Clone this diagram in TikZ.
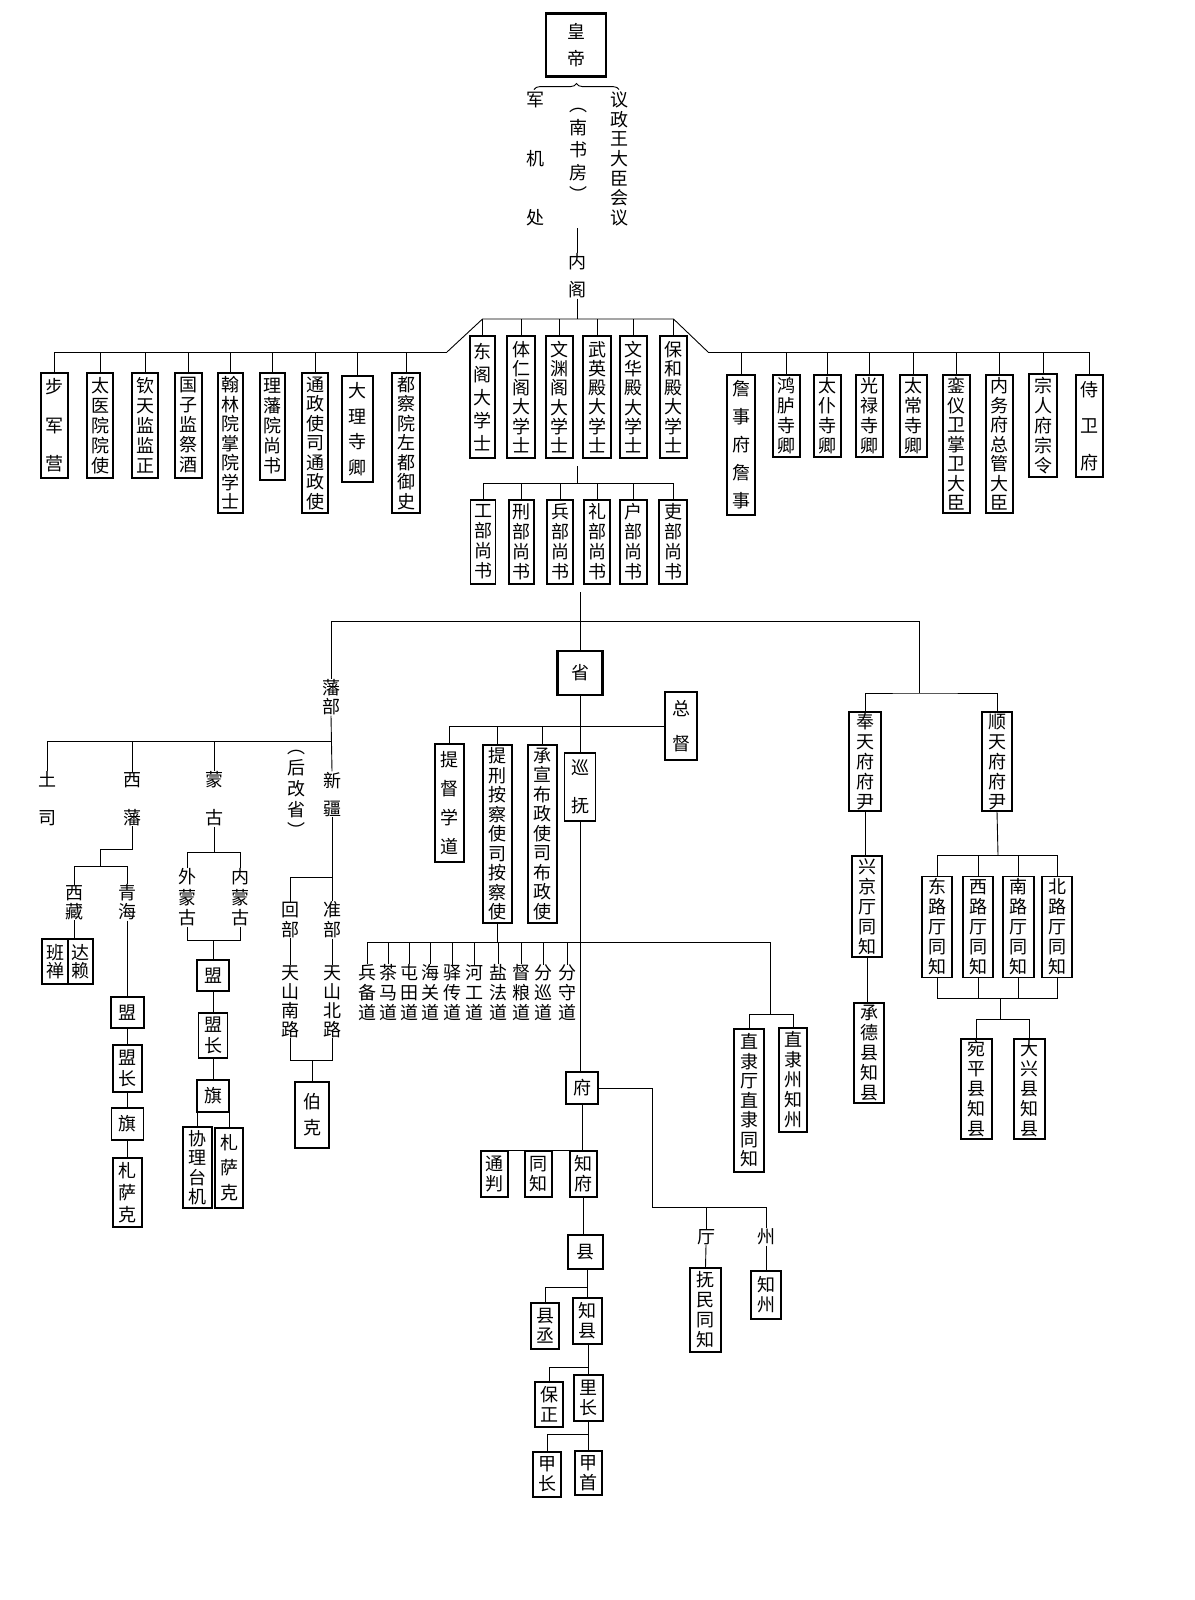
\documentclass[tikz,border=0pt]{standalone}
\usepackage{fontspec}
\setmainfont{Noto Sans CJK SC}
\usetikzlibrary{decorations.pathreplacing}

\begin{document}
\begin{tikzpicture}[x=1pt, y=-1pt, line width=0.9pt,
    font=\fontsize{18pt}{20pt}\selectfont,
    bx/.style={draw, line width=1.1pt, inner sep=0pt, align=center},
    sz/.style 2 args={minimum width=#1pt, minimum height=#2pt},
    ls/.style={font=\fontsize{18pt}{#1pt}\selectfont},
    lbl/.style={inner sep=0pt, align=center},
    thk/.style={line width=2.2pt}]
    \fill[white] (0,0) rectangle (1194,1600);
    \useasboundingbox (0,0) rectangle (1194,1600);

    \node[bx, thk, sz={60}{63}, ls=27] (huangdi) at (576,45) {皇\\帝};
    \draw[decorate, decoration={brace, amplitude=6pt}] ([xshift=-42pt,yshift=-12pt]huangdi.south) -- ([xshift=43pt,yshift=-12pt]huangdi.south);
    \node[lbl, ls=59] (junji) at (535,159) {军\\机\\处};
    \node[lbl, ls=22.5] (nanshufang) at (578,155) {︵\\南\\书\\房\\︶};
    \node[lbl, ls=19.7] (yizheng) at (619,159) {议\\政\\王\\大\\臣\\会\\议};
    \node[lbl, ls=28] (neige) at (577,276) {内\\阁};
    \coordinate (nsf) at (577,228);
    \coordinate (gbar) at (577,319);
    \coordinate (lbar) at (447,352);
    \coordinate (rbar) at (708,352);
    \draw (nsf) -- (neige.north);
    \draw (neige.south) -- (gbar);

    \node[bx, sz={25}{122}, ls=23] (dongge) at (482.5,397) {东\\阁\\大\\学\\士};
    \node[bx, sz={28}{122}, ls=19.3] (tiren) at (521,397) {体\\仁\\阁\\大\\学\\士};
    \node[bx, sz={27}{122}, ls=19.3] (wenyuan) at (559.5,397) {文\\渊\\阁\\大\\学\\士};
    \node[bx, sz={28}{122}, ls=19.3] (wuying) at (597,397) {武\\英\\殿\\大\\学\\士};
    \node[bx, sz={27}{122}, ls=19.3] (wenhua) at (633.5,397) {文\\华\\殿\\大\\学\\士};
    \node[bx, sz={27}{122}, ls=19.3] (baohe) at (673.5,397) {保\\和\\殿\\大\\学\\士};

    \node[bx, sz={27}{105}, ls=38.5] (bujun) at (54.5,425.5) {步\\军\\营};
    \node[bx, sz={26}{105}, ls=20] (taiyi) at (100,425.5) {太\\医\\院\\院\\使};
    \node[bx, sz={26}{105}, ls=20] (qintian) at (145,425.5) {钦\\天\\监\\监\\正};
    \node[bx, sz={27}{105}, ls=20] (guozi) at (188.5,425.5) {国\\子\\监\\祭\\酒};
    \node[bx, sz={25}{140}, ls=19.5] (hanlin) at (230.5,443) {翰\\林\\院\\掌\\院\\学\\士};
    \node[bx, sz={25}{107}, ls=20] (lifan) at (272.5,426.5) {理\\藩\\院\\尚\\书};
    \node[bx, sz={26}{140}, ls=19.5] (tongzheng) at (315,443) {通\\政\\使\\司\\通\\政\\使};
    \node[bx, sz={31}{106}, ls=25.5] (dali) at (357.5,429) {大\\理\\寺\\卿};
    \node[bx, sz={28}{140}, ls=19.5] (duchayuan) at (406,443) {都\\察\\院\\左\\都\\御\\史};

    \node[bx, sz={28}{140}, ls=28] (zhanshi) at (741,445) {詹\\事\\府\\詹\\事};
    \node[bx, sz={27}{82}, ls=20] (honglu) at (786.5,416) {鸿\\胪\\寺\\卿};
    \node[bx, sz={27}{82}, ls=20] (taipu) at (827.5,416) {太\\仆\\寺\\卿};
    \node[bx, sz={27}{82}, ls=20] (guanglu) at (869.5,416) {光\\禄\\寺\\卿};
    \node[bx, sz={27}{82}, ls=20] (taichang) at (913.5,416) {太\\常\\寺\\卿};
    \node[bx, sz={27}{138}, ls=19.5] (luanyi) at (956.5,444) {銮\\仪\\卫\\掌\\卫\\大\\臣};
    \node[bx, sz={27}{138}, ls=19.5] (neiwu) at (999.5,444) {内\\务\\府\\总\\管\\大\\臣};
    \node[bx, sz={28}{103}, ls=20] (zongren) at (1043,425.5) {宗\\人\\府\\宗\\令};
    \node[bx, sz={27}{102}, ls=36.5] (shiwei) at (1089.5,426) {侍\\卫\\府};

    \draw (lbar) -- (dongge.north |- gbar) -- (baohe.north |- gbar) -- (rbar);
    \draw (bujun.north |- lbar) -- (lbar);
    \draw (rbar) -- (shiwei.north |- rbar);
    \foreach \n in {dongge,tiren,wenyuan,wuying,wenhua,baohe}
        \draw (\n.north) -- (\n.north |- gbar);
    \foreach \n in {bujun,taiyi,qintian,guozi,hanlin,lifan,tongzheng,dali,duchayuan}
        \draw (\n.north) -- (\n.north |- lbar);
    \foreach \n in {zhanshi,honglu,taipu,guanglu,taichang,luanyi,neiwu,zongren,shiwei}
        \draw (\n.north) -- (\n.north |- rbar);

    \node[bx, sz={25}{84}, ls=20] (gongbu) at (483,542) {工\\部\\尚\\书};
    \node[bx, sz={25}{84}, ls=20] (xingbu) at (521.5,542) {刑\\部\\尚\\书};
    \node[bx, sz={26}{84}, ls=20] (bingbu) at (560,542) {兵\\部\\尚\\书};
    \node[bx, sz={26}{84}, ls=20] (libu) at (597,542) {礼\\部\\尚\\书};
    \node[bx, sz={27}{84}, ls=20] (hubu) at (633.5,542) {户\\部\\尚\\书};
    \node[bx, sz={28}{84}, ls=20] (libu2) at (673,542) {吏\\部\\尚\\书};
    \coordinate (sbtop) at (577,466);
    \coordinate (sbar) at (577,483);
    \draw (sbtop) -- (sbar);
    \draw (gongbu.north |- sbar) -- (libu2.north |- sbar);
    \foreach \n in {gongbu,xingbu,bingbu,libu,hubu,libu2}
        \draw (\n.north) -- (\n.north |- sbar);

    \coordinate (bigtop) at (579,592);
    \coordinate (bigbar) at (579,621);
    \coordinate (jing) at (919,693);
    \node[bx, thk, sz={45}{44}] (sheng) at (580,673) {省};
    \node[lbl, ls=19] (fanbu) at (331,697.5) {藩\\部};
    \draw (sheng.north |- bigtop) -- (sheng.north);
    \draw (fanbu.north |- bigbar) -- (jing |- bigbar) -- (jing);
    \draw (fanbu.north |- bigbar) -- (fanbu.north);

    \node[bx, sz={31}{68}, ls=38] (xunfu) at (580,787) {巡\\抚};
    \node[bx, sz={32}{68}, ls=35] (zongdu) at (681,726) {总\\督};
    \node[bx, sz={29}{118}, ls=29] (tidu) at (449.5,803) {提\\督\\学\\道};
    \node[bx, sz={29}{178}, ls=19.5] (ancha) at (497.5,834) {提\\刑\\按\\察\\使\\司\\按\\察\\使};
    \node[bx, sz={29}{178}, ls=19.5] (buzheng) at (542.5,834) {承\\宣\\布\\政\\使\\司\\布\\政\\使};
    \draw (sheng.south) -- (xunfu.north);
    \draw (tidu.north) |- (zongdu.west);
    \draw (ancha.north) -- (ancha.north |- zongdu.west);
    \draw (buzheng.north) -- (buzheng.north |- zongdu.west);

    \node[lbl] (bingbei) at (367,993) {兵\\备\\道};
    \node[lbl] (chama) at (388,993) {茶\\马\\道};
    \node[lbl] (tuntian) at (409,993) {屯\\田\\道};
    \node[lbl] (haiguan) at (430,993) {海\\关\\道};
    \node[lbl] (yichuan) at (452,993) {驿\\传\\道};
    \node[lbl] (hegong) at (474,993) {河\\工\\道};
    \node[lbl] (yanfa) at (498,993) {盐\\法\\道};
    \node[lbl] (duliang) at (521,993) {督\\粮\\道};
    \node[lbl] (fenxun) at (543,993) {分\\巡\\道};
    \node[lbl] (fenshou) at (567,993) {分\\守\\道};
    \coordinate (daobar) at (580,942);
    \coordinate (zlfork) at (770,1014);
    \node[bx, sz={30}{143}, ls=19.5] (zlting) at (749,1100.5) {直\\隶\\厅\\直\\隶\\同\\知};
    \node[bx, sz={28}{104}, ls=20] (zlzhou) at (793,1080) {直\\隶\\州\\知\\州};
    \draw (bingbei.north |- daobar) -- (zlfork |- daobar) -- (zlfork);
    \draw (zlting.north) |- (zlfork) -| (zlzhou.north);
    \draw (ancha.south) -- (ancha.south |- daobar);
    \foreach \n in {bingbei,chama,tuntian,haiguan,yichuan,hegong,yanfa,duliang,fenxun,fenshou}
        \draw (\n.north) -- (\n.north |- daobar);

    \node[bx, sz={32}{32}] (fu) at (582,1088) {府};
    \draw (xunfu.south) -- (xunfu.south |- fu.north);
    \coordinate (tzbar) at (652,1207);
    \node[lbl] (ting) at (706,1237) {厅};
    \node[lbl] (zhou) at (766,1237) {州};
    \node[bx, sz={31}{84}, ls=20] (fumin) at (705.5,1310) {抚\\民\\同\\知};
    \node[bx, sz={30}{48}, ls=20] (zhizhou) at (766,1295) {知\\州};
    \draw (fu.east) -| (tzbar) -- (zhou.north |- tzbar) -- (zhou.north);
    \draw (ting.north) -- (ting.north |- tzbar);
    \draw (ting.south) -- (fumin.north);
    \draw (zhou.south) -- (zhizhou.north);

    \node[bx, sz={27}{46}, ls=20] (tongpan) at (494.5,1174) {通\\判};
    \node[bx, sz={27}{46}, ls=20] (tongzhi) at (538.5,1174) {同\\知};
    \node[bx, sz={27}{46}, ls=20] (zhifu) at (583.5,1174) {知\\府};
    \draw (fu.south) -- (fu.south |- zhifu.north);
    \draw (tongpan.north) -- (zhifu.north east);

    \node[bx, sz={35}{34}] (xian) at (585.5,1252) {县};
    \node[bx, sz={28}{46}, ls=20] (xiancheng) at (545,1326) {县\\丞};
    \node[bx, sz={29}{46}, ls=20] (zhixian) at (587.5,1321) {知\\县};
    \draw (zhifu.south) -- (zhifu.south |- xian.north);
    \draw (zhixian.north) -- (zhixian.north |- xian.south);
    \draw (xiancheng.north) |- ([yshift=10pt]zhixian.north);

    \node[bx, sz={28}{45}, ls=20] (baozheng) at (549,1404.5) {保\\正};
    \node[bx, sz={29}{46}, ls=20] (lizhang) at (588.5,1398) {里\\长};
    \draw (lizhang.north) -- (lizhang.north |- zhixian.south);
    \draw (baozheng.north) |- ([yshift=7pt]lizhang.north);

    \node[bx, sz={28}{45}, ls=20] (jiazhang) at (547,1474.5) {甲\\长};
    \node[bx, sz={27}{44}, ls=20] (jiashou) at (588.5,1473) {甲\\首};
    \draw (lizhang.south) -- (lizhang.south |- jiashou.north);
    \draw (jiazhang.north) |- ([yshift=16pt]jiashou.north);

    \node[bx, sz={32}{99}, ls=20] (fengtian) at (865,761.5) {奉\\天\\府\\府\\尹};
    \node[bx, sz={30}{99}, ls=20] (shuntian) at (997,761.5) {顺\\天\\府\\府\\尹};
    \draw (fengtian.north) |- (jing) -| (shuntian.north);
    \node[bx, sz={30}{101}, ls=20] (xingjing) at (867,906.5) {兴\\京\\厅\\同\\知};
    \node[bx, sz={30}{100}, ls=20] (chengde) at (869,1053) {承\\德\\县\\知\\县};
    \draw (fengtian.south) -- (fengtian.south |- xingjing.north);
    \draw (xingjing.south) -- (xingjing.south |- chengde.north);

    \node[bx, sz={30}{101}, ls=20] (donglu) at (937,927) {东\\路\\厅\\同\\知};
    \node[bx, sz={30}{101}, ls=20] (xilu) at (978,927) {西\\路\\厅\\同\\知};
    \node[bx, sz={31}{101}, ls=20] (nanlu) at (1018.5,927) {南\\路\\厅\\同\\知};
    \node[bx, sz={30}{101}, ls=20] (beilu) at (1057,927) {北\\路\\厅\\同\\知};
    \coordinate (slbar) at (998,855);
    \coordinate (sxbar) at (1000,998);
    \coordinate (sxfork) at (1000,1019);
    \draw (shuntian.south) -- (slbar);
    \draw (donglu.north) |- (slbar) -| (beilu.north);
    \draw (donglu.south) |- (sxbar) -| (beilu.south);
    \foreach \n in {xilu,nanlu} {
        \draw (\n.north) -- (\n.north |- slbar);
        \draw (\n.south) -- (\n.south |- sxbar);
    }
    \node[bx, sz={31}{100}, ls=20] (wanping) at (976.5,1089) {宛\\平\\县\\知\\县};
    \node[bx, sz={31}{100}, ls=20] (daxing) at (1029.5,1089) {大\\兴\\县\\知\\县};
    \draw (sxbar) -- (sxfork);
    \draw (wanping.north) |- (sxfork) -| (daxing.north);

    \coordinate (fbar) at (331,741);
    \node[lbl, ls=38] (tusi) at (47,799) {土\\司};
    \node[lbl, ls=38] (xifan) at (132,799) {西\\藩};
    \node[lbl, ls=38] (menggu) at (214,799) {蒙\\古};
    \node[lbl, ls=21] (hougai) at (296,794) {︵\\后\\改\\省\\︶};
    \node[lbl, ls=28] (xinjiang) at (332,794) {新\\疆};
    \draw (tusi.north) |- (fbar);
    \draw (xifan.north) -- (xifan.north |- fbar);
    \draw (menggu.north) -- (menggu.north |- fbar);

    \coordinate (xfa) at (100,849);
    \coordinate (xfb) at (100,866);
    \node[lbl, ls=19] (xizang) at (74,902.5) {西\\藏};
    \node[lbl, ls=19] (qinghai) at (127.5,902.5) {青\\海};
    \draw (xifan.south) |- (xfa) -- (xfb);
    \draw (xizang.north) |- (xfb) -| (qinghai.north);
    \node[bx, sz={26}{45}, ls=18] (banchan) at (55,961.5) {班\\禅};
    \node[bx, sz={25}{45}, ls=18] (dalai) at (80.5,961.5) {达\\赖};
    \draw (xizang.south) -- (xizang.south |- dalai.north);

    \node[bx, sz={33}{31}] (qhmeng) at (127.5,1012.5) {盟};
    \node[bx, sz={29}{47}, ls=21] (qhmengzhang) at (127.5,1068.5) {盟\\长};
    \node[bx, sz={32}{32}] (qhqi) at (127.5,1124) {旗};
    \node[bx, sz={29}{69}, ls=22] (qhzasake) at (127.5,1192.5) {札\\萨\\克};
    \draw (qinghai.south) -- (qhmeng.north);
    \draw (qhmeng.south) -- (qhmengzhang.north);
    \draw (qhmengzhang.south) -- (qhqi.north);
    \draw (qhqi.south) -- (qhzasake.north);

    \coordinate (mga) at (214,852);
    \coordinate (mgb) at (213,940);
    \node[lbl, ls=20.5] (waimeng) at (187,897.5) {外\\蒙\\古};
    \node[lbl, ls=20.5] (neimeng) at (240,897.5) {内\\蒙\\古};
    \draw (menggu.south) -- (mga);
    \draw (waimeng.north) |- (mga) -| (neimeng.north);
    \draw (waimeng.south) |- (mgb) -| (neimeng.south);
    \node[bx, sz={32}{31}] (mgmeng) at (213,975.5) {盟};
    \node[bx, sz={29}{45}, ls=21] (mgmengzhang) at (213,1035.5) {盟\\长};
    \node[bx, sz={32}{32}] (mgqi) at (213,1096) {旗};
    \node[bx, sz={29}{81}, ls=19.5] (xieli) at (197.5,1167.5) {协\\理\\台\\机};
    \node[bx, sz={28}{80}, ls=25] (mgzasake) at (229,1168) {札\\萨\\克};
    \draw (mgb) -- (mgmeng.north);
    \draw (mgmeng.south) -- (mgmengzhang.north);
    \draw (mgmengzhang.south) -- (mgqi.north);
    \draw (xieli.north) -- (xieli.north |- mgqi.south);
    \draw (mgzasake.north) -- (mgzasake.north |- mgqi.south);

    \coordinate (xja) at (332,877);
    \coordinate (xjb) at (312,1060);
    \node[lbl] (huibu) at (290,920) {回\\部};
    \node[lbl] (zhunbu) at (332,920) {准\\部};
    \node[lbl, ls=19] (tsnan) at (290,1001.5) {天\\山\\南\\路};
    \node[lbl, ls=19] (tsbei) at (332,1001.5) {天\\山\\北\\路};
    \node[bx, sz={34}{66}, ls=26] (boke) at (312,1115) {伯\\克};
    \draw (fanbu.south) -- (xinjiang.north);
    \draw (xinjiang.south) -- (zhunbu.north);
    \draw (huibu.north) |- (xja);
    \draw (huibu.south) -- (tsnan.north);
    \draw (zhunbu.south) -- (tsbei.north);
    \draw (tsnan.south) |- (xjb) -| (tsbei.south);
    \draw (xjb) -- (boke.north);
\end{tikzpicture}
\end{document}
